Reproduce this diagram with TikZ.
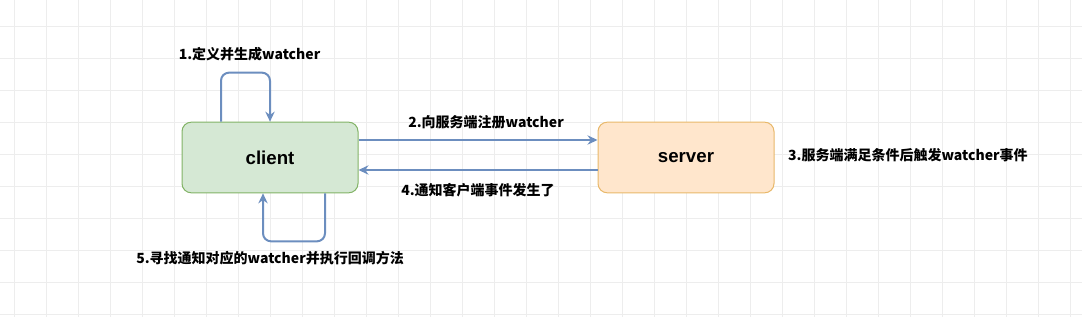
\documentclass[tikz,border=0pt]{standalone}
\usepackage{fontspec}
\setmainfont{Liberation Sans}
\newfontfamily\cjk{Noto Sans CJK SC}
\usetikzlibrary{arrows.meta,positioning,calc}
\definecolor{clientgreen}{HTML}{D5E8D4}
\definecolor{clientedge}{HTML}{82B366}
\definecolor{serverorange}{HTML}{FFE6CC}
\definecolor{serveredge}{HTML}{E8B86A}
\definecolor{flowblue}{HTML}{6C8EBF}
\definecolor{gridgray}{HTML}{EDEDED}

\begin{document}
\begin{tikzpicture}[
    x=0.75pt, y=-0.75pt,
    every node/.style={font=\cjk\bfseries\fontsize{10.5}{12}\selectfont},
    endpoint/.style={rectangle, rounded corners=7pt, line width=0.75pt,
                     minimum width=132pt, minimum height=53pt,
                     font=\bfseries\fontsize{14}{16}\selectfont},
    flow/.style={draw=flowblue, line width=1.5pt,
                 -{Stealth[length=7.5pt,width=7pt]}},
    note/.style={inner sep=1pt, align=center},
]
\useasboundingbox (0,0) rectangle (1082,317);

% background grid
\foreach \gx in {14.3,46.3,...,1082} \draw[gridgray, line width=0.6pt] (\gx,0) -- (\gx,317);
\foreach \gy in {26.3,58.3,...,317} \draw[gridgray, line width=0.6pt] (0,\gy) -- (1082,\gy);

\node[endpoint, draw=clientedge, fill=clientgreen] (client) at (270,157.5) {client};
\node[endpoint, draw=serveredge, fill=serverorange] (server) at (686,157.5) {server};

% steps
\node[note] (define)   at (249.5,54)  {1.定义并生成watcher};
\node[note] (register) at (486,122)   {2.向服务端注册watcher};
\node[note, right=9pt of server, yshift=1.8pt] (trigger) {3.服务端满足条件后触发watcher事件};
\node[note] (notify)   at (478,190)   {4.通知客户端事件发生了};
\node[note] (callback) at (270,258)   {5.寻找通知对应的watcher并执行回调方法};

% connectors
\draw[flow, rounded corners=6pt] ($(client.north)+(-49,0)$) -- ++(0,-49) -| (client.north);
\draw[flow] ($(client.east)+(0,-17.5)$) -- ($(server.west)+(0,-17.5)$);
\draw[flow] ($(server.west)+(0,12.5)$) -- ($(client.east)+(0,12.5)$);
\draw[flow, rounded corners=6pt] ($(client.south)+(55,0)$) -- ++(0,48) -| ($(client.south)+(-7,0)$);

\end{tikzpicture}
\end{document}
